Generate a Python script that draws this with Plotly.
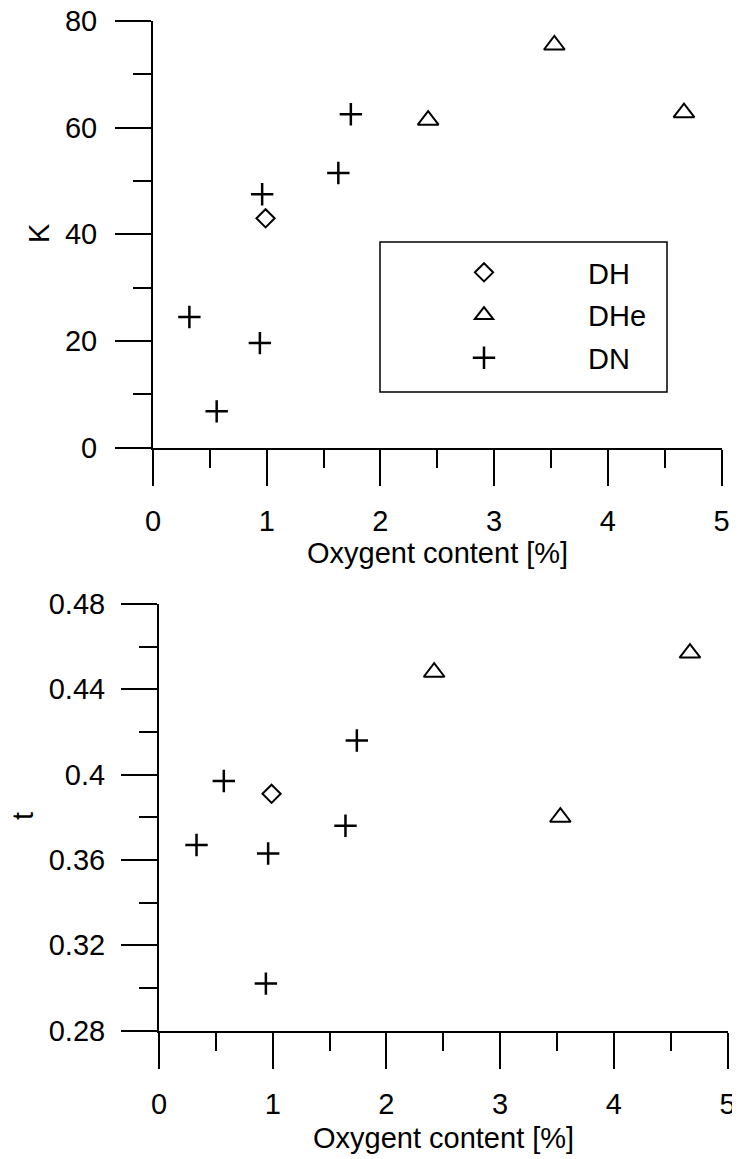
import plotly.graph_objects as go

# oxygen content [%] per sample group
dh_x = [0.99]
dhe_x = [2.42, 3.53, 4.67]
dn_x_k = [0.32, 0.56, 0.94, 0.96, 1.63, 1.74]
dn_x_t = [0.33, 0.57, 0.94, 0.96, 1.64, 1.74]

# K values
dh_k = [43.0]
dhe_k = [61.4, 75.5, 62.8]
dn_k = [24.5, 6.8, 19.6, 47.5, 51.5, 62.5]

# t values
dh_t = [0.391]
dhe_t = [0.448, 0.380, 0.457]
dn_t = [0.367, 0.397, 0.302, 0.363, 0.376, 0.416]

X_TITLE = "Oxygent content [%]"
Y_TITLES = ["K", "t"]

# the page body keeps the browser's 8px margin, so the figure is shrunk by it
# and every target position below is given in window pixels
OFF = 8
W, H = 740 - OFF, 1159 - OFF
FONT = "Arial, Liberation Sans, sans-serif"
FS = 29


def px_x(v):
    return (v - OFF) / W


def px_y(v):
    return 1 - (v - OFF) / H


marker_dh = dict(symbol="diamond-open", size=14, color="black", line=dict(width=2, color="black"))
marker_dhe = dict(symbol="triangle-up-open", size=18, color="black", line=dict(width=2, color="black"))
marker_dn = dict(symbol="cross-thin", size=16, color="black", line=dict(width=2.5, color="black"))

fig = go.Figure()
series = [
    ("DH", dh_x, dh_k, dh_x, dh_t, marker_dh),
    ("DHe", dhe_x, dhe_k, dhe_x, dhe_t, marker_dhe),
    ("DN", dn_x_k, dn_k, dn_x_t, dn_t, marker_dn),
]
for name, xk, yk, xt, yt, mk in series:
    fig.add_trace(go.Scatter(x=xk, y=yk, mode="markers", name=name, marker=mk,
                             legendgroup=name, xaxis="x", yaxis="y"))
    fig.add_trace(go.Scatter(x=xt, y=yt, mode="markers", name=name, marker=mk,
                             legendgroup=name, showlegend=False, xaxis="x2", yaxis="y2"))

axis_common = dict(
    showline=True, linecolor="black", linewidth=2,
    ticks="outside", ticklen=36, tickwidth=2, tickcolor="black",
    showgrid=False, zeroline=False, automargin=False, ticklabeloverflow="allow",
    tickfont=dict(family=FONT, size=FS, color="black"),
)
minor_common = dict(ticks="outside", ticklen=18, tickwidth=2, tickcolor="black", showgrid=False)

fig.update_layout(
    template="none",
    width=W, height=H,
    margin=dict(l=0, r=0, t=0, b=0),
    paper_bgcolor="white", plot_bgcolor="white",
    font=dict(family=FONT, size=FS, color="black"),
    xaxis=dict(domain=[px_x(153), px_x(721.5)], range=[0, 5], dtick=1, tick0=0,
               minor=dict(dtick=0.5, **minor_common), anchor="y",
               ticklabelstandoff=11, **axis_common),
    yaxis=dict(domain=[px_y(447.6), px_y(21)], range=[0, 80], dtick=20, tick0=0,
               minor=dict(dtick=10, **minor_common), anchor="x",
               ticklabelstandoff=12, **axis_common),
    xaxis2=dict(domain=[px_x(159), px_x(727.5)], range=[0, 5], dtick=1, tick0=0,
                minor=dict(dtick=0.5, **minor_common), anchor="y2",
                ticklabelstandoff=11, **axis_common),
    yaxis2=dict(domain=[px_y(1030.5), px_y(604)], range=[0.28, 0.48], dtick=0.04, tick0=0.28,
                minor=dict(dtick=0.02, **minor_common), anchor="x2",
                ticklabelstandoff=10, **axis_common),
    legend=dict(x=px_x(380), y=px_y(247), xanchor="left", yanchor="top",
                bgcolor="rgba(0,0,0,0)", borderwidth=0, itemwidth=198,
                tracegroupgap=2, font=dict(family=FONT, size=FS, color="black")),
    showlegend=True,
)

# axis titles
for xc, yc in [((153 + 721.5) / 2, 553), ((159 + 727.5) / 2, 1138)]:
    fig.add_annotation(text=X_TITLE, xref="paper", yref="paper", x=px_x(xc), y=px_y(yc),
                       xanchor="center", yanchor="middle", showarrow=False,
                       font=dict(family=FONT, size=FS, color="black"))
for text, xc, yc in zip(Y_TITLES, [39, 23], [233, 816]):
    fig.add_annotation(text=text, xref="paper", yref="paper", x=px_x(xc), y=px_y(yc),
                       xanchor="center", yanchor="middle", showarrow=False, textangle=-90,
                       font=dict(family=FONT, size=FS, color="black"))

# legend frame
fig.add_shape(type="rect", xref="paper", yref="paper",
              x0=px_x(380), x1=px_x(667), y0=px_y(392), y1=px_y(242),
              line=dict(color="black", width=1.5), fillcolor="rgba(0,0,0,0)")

fig.write_html("out.html")
